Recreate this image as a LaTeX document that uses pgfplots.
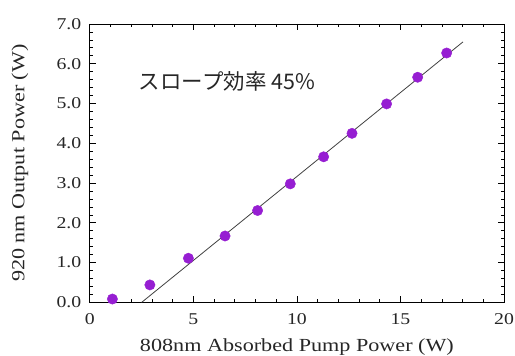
\documentclass[border=0pt]{standalone}
\usepackage{pgfplots}
\pgfplotsset{compat=1.18}
\usepackage{fontspec}
\setmainfont[FakeStretch=1.2]{Liberation Serif}
\newfontfamily\cjk{Noto Sans CJK JP}
\definecolor{pt}{RGB}{150,30,210}
\begin{document}
\begin{tikzpicture}
\begin{axis}[
  name=ax,
  scale only axis,
  width=415pt, height=279pt,
  xmin=0, xmax=20, ymin=0, ymax=7,
  xtick={0,5,10,15,20},
  ytick={0,1,...,7},
  minor x tick num=4,
  minor y tick num=4,
  tick align=inside,
  major tick length=6pt,
  minor tick length=3pt,
  every tick/.style={black, line width=0.7pt},
  axis line style={line width=0.9pt},
  /pgf/number format/assume math mode=true,
  tick label style={font=\fontsize{16.5}{18}\selectfont, text=black!85},
  xticklabel style={anchor=north, yshift=-8pt},
  yticklabel style={anchor=east, xshift=-5pt, /pgf/number format/.cd, fixed, fixed zerofill, precision=1},
  label style={font=\fontsize{18.5}{20}\selectfont, text=black!85},
  xlabel={808nm Absorbed Pump Power (W)},
  ylabel={920 nm Output Power (W)},
  xlabel style={at={([yshift=-49pt]axis description cs:0.5,0)}, anchor=base},
  ylabel style={at={([xshift=-70pt]axis description cs:0,0.5)}, anchor=center},
  clip=true,
]
\addplot[only marks, mark=*, mark size=5.2pt, color=pt, mark options={draw=pt, fill=pt}] coordinates {
(1.09,0.085) (2.90,0.44) (4.76,1.11) (6.53,1.67) (8.10,2.31) (9.68,2.98)
(11.29,3.66) (12.66,4.25) (14.33,4.99) (15.83,5.66) (17.23,6.27)
};
\addplot[black!75, line width=0.8pt] coordinates {(2.50,0) (18.02,6.55)};
\node[font=\cjk\fontsize{21.5}{23}\selectfont, text=black!85] at (axis cs:6.62,5.56) {スロープ効率 45\%};
\end{axis}
\pgfresetboundingbox
\path[use as bounding box] ([shift={(-90pt,-53.3pt)}]ax.south west) rectangle ([shift={(11pt,24pt)}]ax.north east);
\end{tikzpicture}
\end{document}
